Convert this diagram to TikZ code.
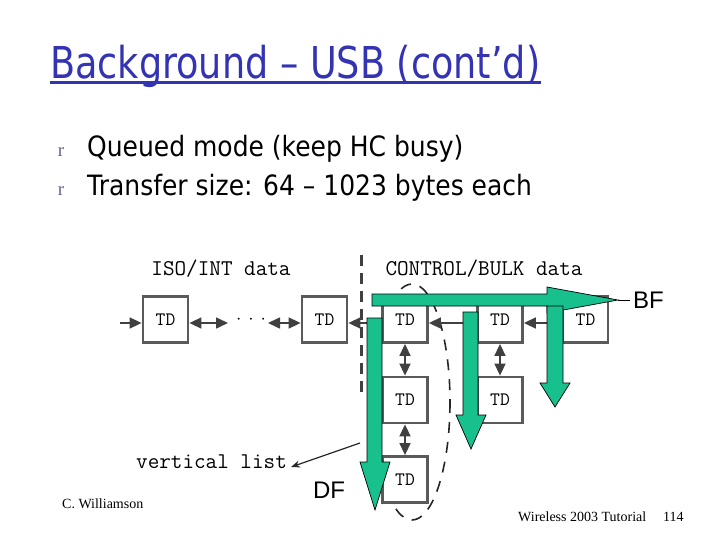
\documentclass[tikz,border=0pt]{standalone}
\usepackage{fontspec}
\usetikzlibrary{arrows.meta}
\newfontfamily\comicf{DejaVu Sans}
\newfontfamily\serff{Liberation Serif}
\newfontfamily\arialf{Liberation Sans}
\definecolor{titleblue}{RGB}{51,51,179}
\definecolor{tealgreen}{RGB}{24,192,142}
\definecolor{boxgray}{RGB}{90,90,90}
\definecolor{bulletc}{RGB}{100,100,140}
\tikzset{
  tdbox/.style={draw=boxgray, line width=2.8pt, fill=white, minimum width=45pt, minimum height=46pt, inner sep=0pt, font=\ttfamily\fontsize{19}{19}\selectfont},
  blarrow/.style={draw=black!75, line width=1.6pt, -{Triangle[length=12pt,width=11pt]}},
  dblarrow/.style={draw=black!75, line width=1.6pt, {Triangle[length=12pt,width=11pt]}-{Triangle[length=12pt,width=11pt]}},
  greenarrow/.style={fill=tealgreen, draw=black, line width=0.7pt, line join=miter},
  monolabel/.style={inner sep=0pt, font=\ttfamily\fontsize{22.5}{22.5}\selectfont},
  bullettext/.style={anchor=base west, inner sep=0pt, font=\comicf\fontsize{25}{25}\selectfont},
  bulletmark/.style={anchor=base, inner sep=0pt, text=bulletc, font=\serff\fontsize{19}{19}\selectfont},
  footer/.style={anchor=base west, inner sep=0pt, font=\serff\fontsize{14}{14}\selectfont},
  biglabel/.style={inner sep=0pt, font=\arialf\fontsize{24}{24}\selectfont}
}
\begin{document}
\begin{tikzpicture}[x=1pt,y=-1pt]
\useasboundingbox (0,0) rectangle (720,540);
% title
\node[anchor=base west, inner sep=0pt, text=titleblue, font=\comicf\fontsize{36.6}{36.6}\selectfont] (title) at (50,79) {\scalebox{1}[1.2]{Background – USB (cont’d)}};
\draw[titleblue, line width=2.5pt] ([yshift=-3.5pt]title.base west) -- ([yshift=-3.5pt]title.base east);
% bullets
\node[bulletmark] (m1) at (61,157) {r};
\node[bulletmark] (m2) at (61,196) {r};
\node[bullettext] (l1) at (87,157) {\scalebox{1}[1.12]{Queued mode (keep HC busy)}};
\node[bullettext] (l2) at (87,196) {\scalebox{1}[1.12]{Transfer size: 64 – 1023 bytes each}};
% labels
\node[monolabel] (iso) at (221,269) {ISO/INT data};
\node[monolabel] (ctl) at (484,269) {CONTROL/BULK data};
\node[monolabel, anchor=base west] (vlist) at (136,468) {vertical list};
% dashed oval and separator
\draw[black!85, line width=1.6pt, dash pattern=on 11pt off 9pt] (412,402) ellipse [x radius=38, y radius=118];
\draw[black!75, line width=3pt, dash pattern=on 11pt off 7pt] (361,255) -- (361,396);
% boxes
\node[tdbox] (b1) at (165.5,319.5) {TD};
\node[tdbox] (b2) at (324.5,319.5) {TD};
\node[tdbox] (b3) at (405,319.5) {TD};
\node[tdbox] (b4) at (500,319.5) {TD};
\node[tdbox] (b5) at (585.5,319.5) {TD};
\node[tdbox] (b6) at (405,400) {TD};
\node[tdbox] (b7) at (500,400) {TD};
\node[tdbox] (b8) at (405,479.5) {TD};
% horizontal links
\coordinate (in) at (120,323);
\coordinate (dl) at (228,323);
\coordinate (dr) at (268,323);
\node[inner sep=0pt, font=\serff\fontsize{16}{16}\selectfont] (dots) at (251,321) {·\hspace{7pt}·\hspace{7pt}·};
\draw[blarrow] (in) -- ([yshift=-3.5pt]b1.west);
\draw[dblarrow] ([yshift=-3.5pt]b1.east) -- (dl);
\draw[dblarrow] (dr) -- ([yshift=-3.5pt]b2.west);
\draw[blarrow] ([yshift=-3.5pt]b3.west) -- ([yshift=-3.5pt]b2.east);
\draw[blarrow] ([yshift=-3.5pt]b4.west) -- ([yshift=-3.5pt]b3.east);
\draw[blarrow] ([yshift=-3.5pt]b5.west) -- ([yshift=-3.5pt]b4.east);
\draw[dblarrow] (b3) -- (b6);
\draw[dblarrow] (b4) -- (b7);
\draw[dblarrow] (b6) -- (b8);
% vertical list pointer
\coordinate (vl0) at (360,443);
\draw[black!85, line width=1.2pt, -{Stealth[length=9pt,width=7pt]}] (vl0) -- ([xshift=4pt,yshift=1pt]vlist.base east);
% green arrows
\draw[greenarrow] (372,294) -- (547,294) -- (547,287) -- (618,300) -- (547,313) -- (547,306) -- (372,306) -- cycle;
\draw[greenarrow] (367,318) -- (382,318) -- (382,462) -- (390,462) -- (375,510) -- (360,462) -- (367,462) -- cycle;
\draw[greenarrow] (463,312) -- (478,312) -- (478,415) -- (486,415) -- (471,449) -- (456,415) -- (463,415) -- cycle;
\draw[greenarrow] (547,306) -- (563,306) -- (563,383) -- (570,383) -- (555,407) -- (540,383) -- (547,383) -- cycle;
\node[biglabel, anchor=west] (bf) at (633,300) {BF};
\coordinate (bftip) at (618,300);
\draw[black, line width=0.8pt] (bftip) -- ([xshift=-3pt]bf.west);
\node[biglabel] (df) at (329,490) {DF};
% footer
\node[footer] (auth) at (62,508) {C. Williamson};
\node[footer] (tut) at (518,521) {Wireless 2003 Tutorial};
\node[footer] (pg) at (663,521) {114};
\end{tikzpicture}
\end{document}
